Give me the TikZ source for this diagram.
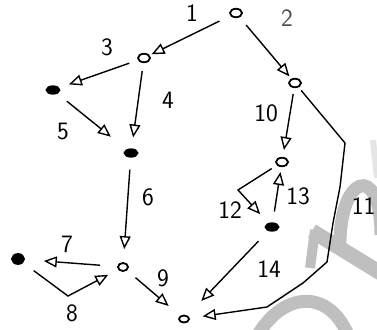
\documentclass[tikz,border=0pt]{standalone}
\usetikzlibrary{arrows.meta,shapes.geometric}
\begin{document}
\begin{tikzpicture}[x=1pt,y=-1pt,
  vtx/.style={ellipse,draw,line width=1.8pt,inner sep=0pt,minimum width=12pt,minimum height=8.5pt,fill=white},
  vfill/.style={vtx,fill=black,minimum width=13pt,minimum height=7.5pt},
  edge/.style={line width=1.4pt,-{Triangle[open,length=13pt,width=11pt,line width=1.4pt]}},
  lab/.style={inner sep=0pt,font=\sffamily\fontsize{25}{25}\selectfont},
  wm/.style={draw=black!25,line width=13pt}]
\useasboundingbox (0,0) rectangle (377,329);
% watermark (light grey, behind)
\draw[wm] (255,340) .. controls (280,292) and (330,285) .. (350,340);
\draw[wm,line width=15pt] (312,231) -- (392,280);
\draw[wm,line width=10pt] (315,230) -- (310,268);
\draw[wm] (340,250) .. controls (338,175) and (381,160) .. (381,235);
\draw[draw=black!10,line width=6pt] (373,140) -- (377,178);
% vertices
\node[vtx]   (n1)  at (236,13)  {};
\node[vtx]   (n2)  at (295,83)  {};
\node[vtx]   (n3)  at (144,58)  {};
\node[vfill] (n4)  at (53,90)   {};
\node[vfill] (n5)  at (131,153) {};
\node[vtx]   (n6)  at (282,162) {};
\node[vfill] (n7)  at (272,227) {};
\node[vtx,minimum width=10pt,minimum height=8pt] (n8) at (123,267) {};
\node[vfill,minimum width=12pt,minimum height=10pt] (n9) at (18,259) {};
\node[vtx,minimum width=10pt,minimum height=7pt] (n10) at (184,319) {};
% bend points
\coordinate (c8)  at (68,296);
\coordinate (c12) at (238,190);
\coordinate (k1)  at (345,143);
\coordinate (k2)  at (340,187);
\coordinate (k3)  at (333,223);
\coordinate (k4)  at (327,262);
\coordinate (k5)  at (303,283);
\coordinate (k6)  at (267,307);
% edges
\draw[edge,shorten <=12pt,shorten >=2pt]  (n1) -- (n3);
\draw[edge,shorten <=10pt,shorten >=3pt]  (n1) -- (n2);
\draw[edge,shorten <=9pt,shorten >=10pt]  (n3) -- (n4);
\draw[edge,shorten <=8pt,shorten >=11pt]  (n3) -- (n5);
\draw[edge,shorten <=12pt,shorten >=20pt] (n4) -- (n5);
\draw[edge,shorten <=12pt,shorten >=13pt] (n5) -- (n8);
\draw[edge,shorten <=17pt,shorten >=19pt] (n8) -- (n9);
\draw[edge,shorten <=13pt,shorten >=11pt] (n9) -- (c8) -- (n8);
\draw[edge,shorten <=11pt,shorten >=15pt] (n8) -- (n10);
\draw[edge,shorten <=6pt,shorten >=7pt]   (n2) -- (n6);
\draw[edge,shorten <=4pt,shorten >=13pt]  (n2) -- (k1) -- (k2) -- (k3) -- (k4) -- (k5) -- (k6) -- (n10);
\draw[edge,shorten <=6pt,shorten >=12pt]  (n6) -- (c12) -- (n7);
\draw[edge,shorten <=11pt,shorten >=5pt]  (n7) -- (n6);
\draw[edge,shorten <=14pt,shorten >=20pt] (n7) -- (n10);
% labels
\node[lab] (l1)  at (192,13)  {1};
\node[lab,text=black!70] (l2) at (287,18) {2};
\node[lab] (l3)  at (107,47)  {3};
\node[lab] (l4)  at (168,100) {4};
\node[lab] (l5)  at (63,131)  {5};
\node[lab] (l6)  at (148,197) {6};
\node[lab] (l7)  at (67,244)  {7};
\node[lab] (l8)  at (72,313)  {8};
\node[lab] (l9)  at (163,278) {9};
\node[lab] (l10) at (266,113) {10};
\node[lab,anchor=east] (l11) at (375.5,206) {11};
\node[lab] (l12) at (230,210) {12};
\node[lab] (l13) at (298,196) {13};
\node[lab] (l14) at (269,269) {14};
\end{tikzpicture}
\end{document}
